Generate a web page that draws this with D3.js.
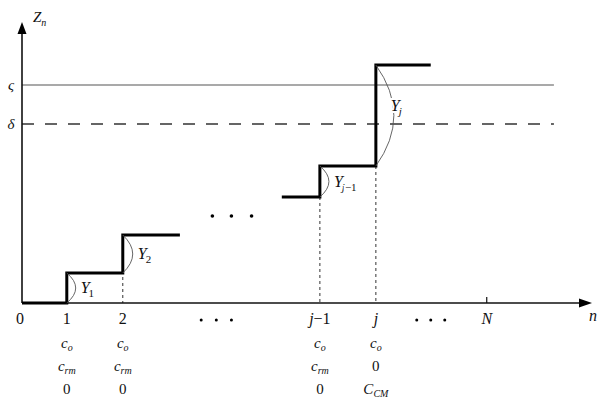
<!DOCTYPE html>
<html><head><meta charset="utf-8">
<script src="https://cdn.jsdelivr.net/npm/d3@7"></script>
<style>body{margin:0;background:#fff}svg{display:block}</style>
</head><body><svg id="c" width="604" height="408"></svg>
<script>
// ---- data ----
const tickLabels = ["0", "1", "2", "j|\u22121", "j", "N"];
const tickPos    = [0, 0.80, 1.80, 5.32, 6.32, 8.30];
const rowCo      = ["", "c_o", "c_o", "c_o", "c_o", ""];
const rowCrm     = ["", "c_rm", "c_rm", "c_rm", "0", ""];
const rowLast    = ["", "0", "0", "0", "C_CM", ""];
const steps1X    = [0, 0.80, 1.80, 2.82];
const steps1Lvl  = [0, 3.0, 6.8, 6.8];
const steps2X    = [4.64, 5.32, 6.32, 7.30];
const steps2Lvl  = [10.6, 13.7, 23.8, 23.8];
const jumpNames  = [["1"], ["2"], ["j", "\u22121"], ["j"]];
const jumpX      = [0.80, 1.80, 5.32, 6.32];
const jumpFrom   = [0, 3.0, 10.6, 13.7];
const jumpTo     = [3.0, 6.8, 13.7, 23.8];
const levelNames = ["\u03C2", "\u03B4"];
const levelVals  = [21.8, 17.9];
const dashedX    = [1.80, 5.32, 6.32];
const dashedTop  = [6.8, 10.6, 13.7];

const FONT = '"Liberation Serif"';
const svg = d3.select("#c");
const x = d3.scaleLinear().domain([0, 10.18]).range([22, 592]);
const y = d3.scaleLinear().domain([0, 28.1]).range([303, 22]);

function txt(px, py) {
  return svg.append("text").attr("x", px).attr("y", py).style("font-family", FONT).attr("fill", "#111");
}

// threshold lines
levelVals.forEach((v, i) => {
  svg.append("line").attr("x1", x(0)).attr("x2", x(9.5)).attr("y1", y(v)).attr("y2", y(v))
    .attr("stroke", i === 0 ? "#555" : "#333").attr("stroke-width", i === 0 ? 1.2 : 1.3)
    .attr("stroke-dasharray", i === 0 ? null : "12,11");
  txt(11, y(v) + 5).attr("text-anchor", "middle")
    .attr("font-size", 15).attr("font-style", "italic").text(levelNames[i]);
});

// dashed verticals
dashedX.forEach((d, i) => {
  svg.append("line").attr("x1", x(d)).attr("x2", x(d)).attr("y1", y(dashedTop[i])).attr("y2", y(0))
    .attr("stroke", "#333").attr("stroke-width", 1).attr("stroke-dasharray", "3,3");
});

// axes
svg.append("line").attr("x1", x(0)).attr("x2", x(10.18) - 10).attr("y1", y(0)).attr("y2", y(0))
  .attr("stroke", "#111").attr("stroke-width", 1.6);
svg.append("line").attr("x1", x(0)).attr("x2", x(0)).attr("y1", y(0)).attr("y2", y(28.1) + 10)
  .attr("stroke", "#111").attr("stroke-width", 1.6);
svg.append("path").attr("d", `M${x(10.18)},${y(0)} L${x(10.18)-13},${y(0)-4.5} L${x(10.18)-13},${y(0)+4.5}Z`).attr("fill", "#000");
svg.append("path").attr("d", `M${x(0)},${y(28.1)} L${x(0)-4.5},${y(28.1)+12} L${x(0)+4.5},${y(28.1)+12}Z`).attr("fill", "#000");
// N tick
svg.append("line").attr("x1", x(8.30)).attr("x2", x(8.30)).attr("y1", y(0) - 6).attr("y2", y(0))
  .attr("stroke", "#111").attr("stroke-width", 1.2);

// axis titles
const zt = txt(33, 22).attr("font-size", 15).attr("font-style", "italic");
zt.append("tspan").text("Z");
zt.append("tspan").attr("font-size", 10).attr("dy", 4).text("n");
txt(593, 321).attr("text-anchor", "middle").attr("font-size", 16).attr("font-style", "italic").text("n");

// step lines
const line = d3.line().x(d => x(d[0])).y(d => y(d[1])).curve(d3.curveStepAfter);
[[steps1X, steps1Lvl], [steps2X, steps2Lvl]].forEach(([xs, ls]) => {
  svg.append("path").attr("d", line(xs.map((v, i) => [v, ls[i]])))
    .attr("fill", "none").attr("stroke", "#000").attr("stroke-width", 3).attr("stroke-linejoin", "miter");
});

// jump arcs and labels
jumpNames.forEach((nm, i) => {
  const x0 = x(jumpX[i]), y0 = y(jumpTo[i]), y1 = y(jumpFrom[i]);
  const h = y1 - y0;
  const bulge = Math.min(18, 5 + h * 0.13);
  svg.append("path").attr("d", `M${x0},${y0} Q${x0 + 2 * bulge},${(y0 + y1) / 2} ${x0},${y1}`)
    .attr("fill", "none").attr("stroke", "#555").attr("stroke-width", 0.9);
  const lx = x0 + bulge + (i === 3 ? -3 : 5), ly = i === 3 ? y0 + h * 0.46 : (y0 + y1) / 2 + 5;
  const t = txt(lx, ly).attr("font-size", 16)
    .attr("stroke", "#fff").attr("stroke-width", 4).attr("paint-order", "stroke");
  t.append("tspan").attr("font-style", "italic").text("Y");
  const sub = t.append("tspan").attr("font-size", 11).attr("dy", 4).attr("dx", -1);
  nm.forEach(p => sub.append("tspan").attr("font-style", /[a-z]/.test(p) ? "italic" : "normal").text(p));
});

// ellipsis dots
[3.40, 3.74, 4.10].forEach(d => svg.append("circle").attr("cx", x(d)).attr("cy", 216).attr("r", 1.8).attr("fill", "#000"));
[3.20, 3.47, 3.74].forEach(d => svg.append("circle").attr("cx", x(d)).attr("cy", 320).attr("r", 1.5).attr("fill", "#000"));
[7.05, 7.30, 7.55].forEach(d => svg.append("circle").attr("cx", x(d)).attr("cy", 320).attr("r", 1.5).attr("fill", "#000"));

// tick labels
tickLabels.forEach((s, i) => {
  const parts = s.split("|");
  const t = txt(x(tickPos[i]) - (i === 0 ? 2 : 0), 324).attr("text-anchor", "middle").attr("font-size", 16);
  t.append("tspan").attr("font-style", /^[0-9]$/.test(parts[0]) ? "normal" : "italic").text(parts[0]);
  if (parts[1]) t.append("tspan").text(parts[1]);
});
// rows below
function sublabel(str, cx, cy) {
  const parts = str.split("_");
  const t = txt(cx, cy).attr("text-anchor", "middle").attr("font-size", 15);
  t.append("tspan").attr("font-style", str === "0" ? "normal" : "italic").text(parts[0]);
  if (parts[1]) t.append("tspan").attr("font-size", 10).attr("font-style", "italic").attr("dy", 3).text(parts[1]);
}
[rowCo, rowCrm, rowLast].forEach((row, r) => {
  row.forEach((s, i) => { if (s) sublabel(s, x(tickPos[i]), 348 + r * 23); });
});
</script></body></html>
